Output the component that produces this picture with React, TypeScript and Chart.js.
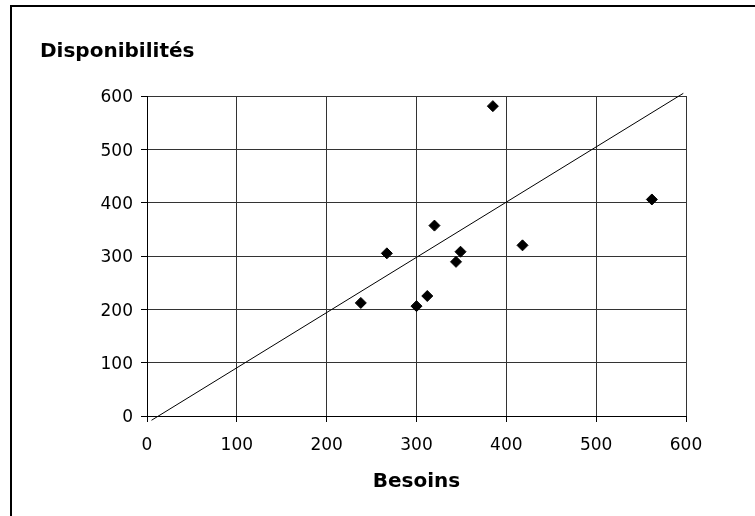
import { useEffect, useRef } from "react";
import { Chart, registerables } from "chart.js";

Chart.register(...registerables);

// Besoins (x) vs Disponibilités (y) for each site
const besoins = [238, 267, 300, 312, 320, 344, 349, 385, 418, 562];
const disponibilites = [212, 305, 206, 225, 357, 289, 308, 581, 320, 406];

// Trend line end points
const trendX = [5, 597];
const trendY = [-8, 605];

const axisMin = 0;
const axisMax = 600;
const axisStep = 100;

const FONT = "'DejaVu Sans', sans-serif";

export default function App() {
  const canvasRef = useRef<HTMLCanvasElement | null>(null);

  useEffect(() => {
    const canvas = canvasRef.current;
    if (!canvas) return;

    const points = besoins.map((x, i) => ({ x, y: disponibilites[i] }));
    const trend = trendX.map((x, i) => ({ x, y: trendY[i] }));

    const chart = new Chart(canvas, {
      type: "scatter",
      data: {
        datasets: [
          {
            label: "Tendance",
            data: trend,
            showLine: true,
            pointRadius: 0,
            borderColor: "#000",
            borderWidth: 1,
            clip: false as any,
          },
          {
            label: "Sites",
            data: points,
            pointStyle: "rectRot",
            pointRadius: 5.5,
            backgroundColor: "#000",
            borderColor: "#000",
            borderWidth: 1,
          },
        ],
      },
      options: {
        responsive: false,
        animation: false,
        layout: { padding: { left: 40, right: 69, top: 0, bottom: 0 } },
        plugins: {
          legend: { display: false },
          tooltip: { enabled: false },
          title: {
            display: true,
            text: "Disponibilités",
            align: "start",
            color: "#000",
            font: { family: FONT, size: 20, weight: "bold" },
            padding: { top: 40, bottom: 32 },
          },
        },
        scales: {
          x: {
            type: "linear",
            position: "bottom",
            min: axisMin,
            max: axisMax,
            ticks: {
              stepSize: axisStep,
              color: "#000",
              font: { family: FONT, size: 17 },
              padding: 13,
              maxRotation: 0,
            },
            grid: { color: "#333", tickColor: "#000", tickLength: 6 },
            border: { color: "#000", width: 1 },
            title: {
              display: true,
              text: "Besoins",
              color: "#000",
              font: { family: FONT, size: 20, weight: "bold" },
              padding: { top: 0, bottom: 22 },
            },
            afterFit: (s: any) => {
              s.height = 100;
              s.paddingLeft = 0;
              s.paddingRight = 0;
            },
          },
          y: {
            type: "linear",
            min: axisMin,
            max: axisMax,
            ticks: {
              stepSize: axisStep,
              color: "#000",
              font: { family: FONT, size: 17 },
              padding: 8,
              labelOffset: 2,
            },
            grid: { color: "#333", tickColor: "#000", tickLength: 6 },
            border: { color: "#000", width: 1 },
            afterFit: (s: any) => {
              s.width = 107;
              s.paddingTop = 0;
              s.paddingBottom = 0;
            },
          },
        },
      },
    });

    return () => chart.destroy();
  }, []);

  return (
    <div
      style={{
        position: "fixed",
        left: 0,
        top: 0,
        width: 755,
        height: 516,
        overflow: "hidden",
        background: "#fff",
      }}
    >
      <canvas
        ref={canvasRef}
        width={755}
        height={516}
        style={{ position: "absolute", left: 0, top: 0 }}
      />
      <div
        style={{
          position: "absolute",
          left: 10,
          top: 5,
          width: 900,
          height: 700,
          border: "2px solid #000",
          pointerEvents: "none",
        }}
      />
    </div>
  );
}
